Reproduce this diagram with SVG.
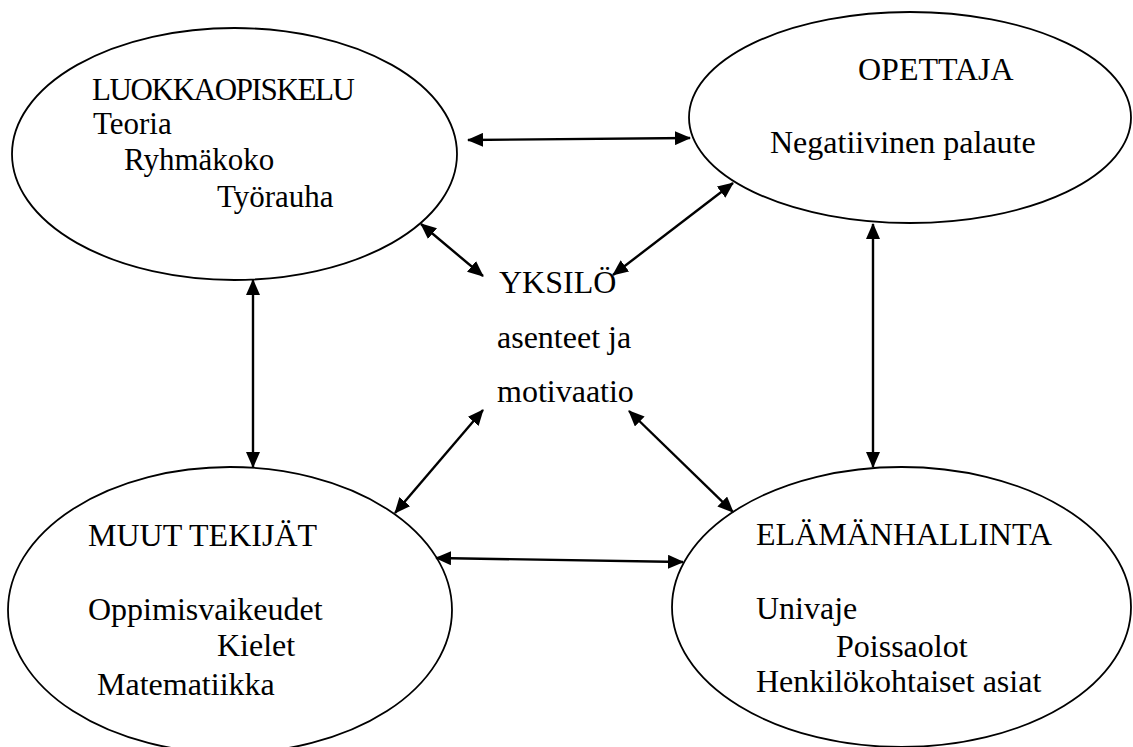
<svg xmlns="http://www.w3.org/2000/svg" width="1133" height="747" viewBox="0 0 1133 747">
<style>
.node ellipse{fill:#fff;stroke:#000;stroke-width:1.8}
text{font-family:"Liberation Serif","Times New Roman",serif;font-size:32px;fill:#000}
.small text{font-size:31px}
.conn line{stroke:#000;stroke-width:2.4}
</style>
<defs>
<marker id="ah" viewBox="0 0 16 14" markerUnits="userSpaceOnUse" markerWidth="16" markerHeight="14" refX="15" refY="7" orient="auto-start-reverse">
<path d="M0,0 L16,7 L0,14 z" fill="#000"/>
</marker>
</defs>
<rect width="1133" height="747" fill="#fff"/>
<g id="luokkaopiskelu" class="node small">
<ellipse cx="234.5" cy="154" rx="222.5" ry="126"/>
<text x="92" y="100" textLength="263" lengthAdjust="spacing">LUOKKAOPISKELU</text>
<text x="93" y="134">Teoria</text>
<text x="124" y="170">Ryhmäkoko</text>
<text x="217" y="207">Työrauha</text>
</g>
<g id="opettaja" class="node">
<ellipse cx="910" cy="117.5" rx="221" ry="105.5"/>
<text x="858" y="80">OPETTAJA</text>
<text x="770" y="153">Negatiivinen palaute</text>
</g>
<g id="muut" class="node">
<ellipse cx="230" cy="610" rx="222" ry="143"/>
<text x="88" y="546">MUUT TEKIJÄT</text>
<text x="88" y="620">Oppimisvaikeudet</text>
<text x="217" y="656">Kielet</text>
<text x="97" y="695">Matematiikka</text>
</g>
<g id="elamanhallinta" class="node">
<ellipse cx="901.5" cy="607" rx="229.5" ry="140"/>
<text x="756" y="545">ELÄMÄNHALLINTA</text>
<text x="756" y="619">Univaje</text>
<text x="836" y="657">Poissaolot</text>
<text x="756" y="692">Henkilökohtaiset asiat</text>
</g>
<g id="yksilo" class="node">
<text x="499" y="293">YKSILÖ</text>
<text x="497" y="348">asenteet ja</text>
<text x="497" y="402">motivaatio</text>
</g>
<g id="connectors" class="conn">
<line x1="468" y1="140" x2="690" y2="138" marker-start="url(#ah)" marker-end="url(#ah)"/>
<line x1="421" y1="224" x2="483" y2="276" marker-start="url(#ah)" marker-end="url(#ah)"/>
<line x1="733" y1="183" x2="613" y2="275" marker-start="url(#ah)" marker-end="url(#ah)"/>
<line x1="253" y1="280" x2="253" y2="467" marker-start="url(#ah)" marker-end="url(#ah)"/>
<line x1="873" y1="224" x2="873" y2="467" marker-start="url(#ah)" marker-end="url(#ah)"/>
<line x1="483" y1="410" x2="395" y2="513" marker-start="url(#ah)" marker-end="url(#ah)"/>
<line x1="629" y1="411" x2="733" y2="512" marker-start="url(#ah)" marker-end="url(#ah)"/>
<line x1="436" y1="558" x2="683" y2="562" marker-start="url(#ah)" marker-end="url(#ah)"/>
</g>
</svg>
